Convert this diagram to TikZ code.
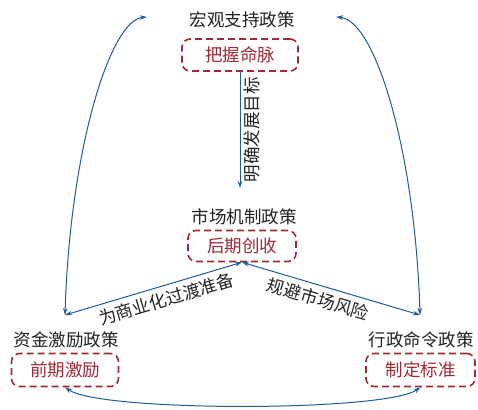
\documentclass[tikz,border=0pt]{standalone}
\usepackage{fontspec}
\setmainfont{Noto Sans CJK SC}
\usetikzlibrary{arrows.meta}
\definecolor{boxred}{HTML}{9E2A36}
\definecolor{lineblue}{HTML}{1F5B99}
\definecolor{headgray}{HTML}{222222}
\begin{document}
\begin{tikzpicture}[x=1pt,y=-1pt,
  head/.style={font=\fontsize{17.5}{20}\selectfont, text=headgray},
  pbox/.style={draw=boxred, line width=1.6pt, dash pattern=on 7pt off 4pt, rounded corners=8pt, text=boxred, font=\fontsize{17.5}{20}\selectfont, inner sep=0pt, minimum height=32pt},
  conn/.style={draw=lineblue, line width=1pt, >={Stealth[length=7pt,width=4.5pt]}},
  lbl/.style={font=\fontsize{17.5}{20}\selectfont, text=headgray}]
\useasboundingbox (0,0) rectangle (478,409);
\node[head] (thead) at (242,20) {宏观支持政策};
\node[pbox, minimum width=116pt] (tbox) at (240,55) {把握命脉};
\node[head] (mhead) at (244,216.5) {市场机制政策};
\node[pbox, minimum width=108pt, minimum height=31pt] (mbox) at (242,246) {后期创收};
\node[head] (lhead) at (66,340) {资金激励政策};
\node[pbox, minimum width=107pt, minimum height=33pt] (lbox) at (65,370) {前期激励};
\node[head] (rhead) at (421,340) {行政命令政策};
\node[pbox, minimum width=109pt, minimum height=33pt] (rbox) at (420.5,370) {制定标准};
\coordinate (jl) at (65,315);
\coordinate (jr) at (420,315);
\coordinate (tl) at (147,17);
\coordinate (tr) at (336,17);
\coordinate (mtop) at (240,188);
\draw[conn,->] (tbox.south) -- node[lbl, midway, rotate=90, anchor=north] {明确发展目标} (mtop);
\draw[conn,<->] (jl) -- node[lbl, pos=0.55, sloped, below=2pt] {为商业化过渡准备} (mbox.south);
\draw[conn,<->] (mbox.south) -- node[lbl, pos=0.45, sloped, below=2pt] {规避市场风险} (jr);
\draw[conn,<->] (jl) .. controls (70,150) and (110,20) .. (tl);
\draw[conn,<->] (jr) .. controls (415,150) and (375,20) .. (tr);
\draw[conn,<->] (lbox.south) .. controls (100,412) and (385,412) .. (rbox.south);
\end{tikzpicture}
\end{document}
